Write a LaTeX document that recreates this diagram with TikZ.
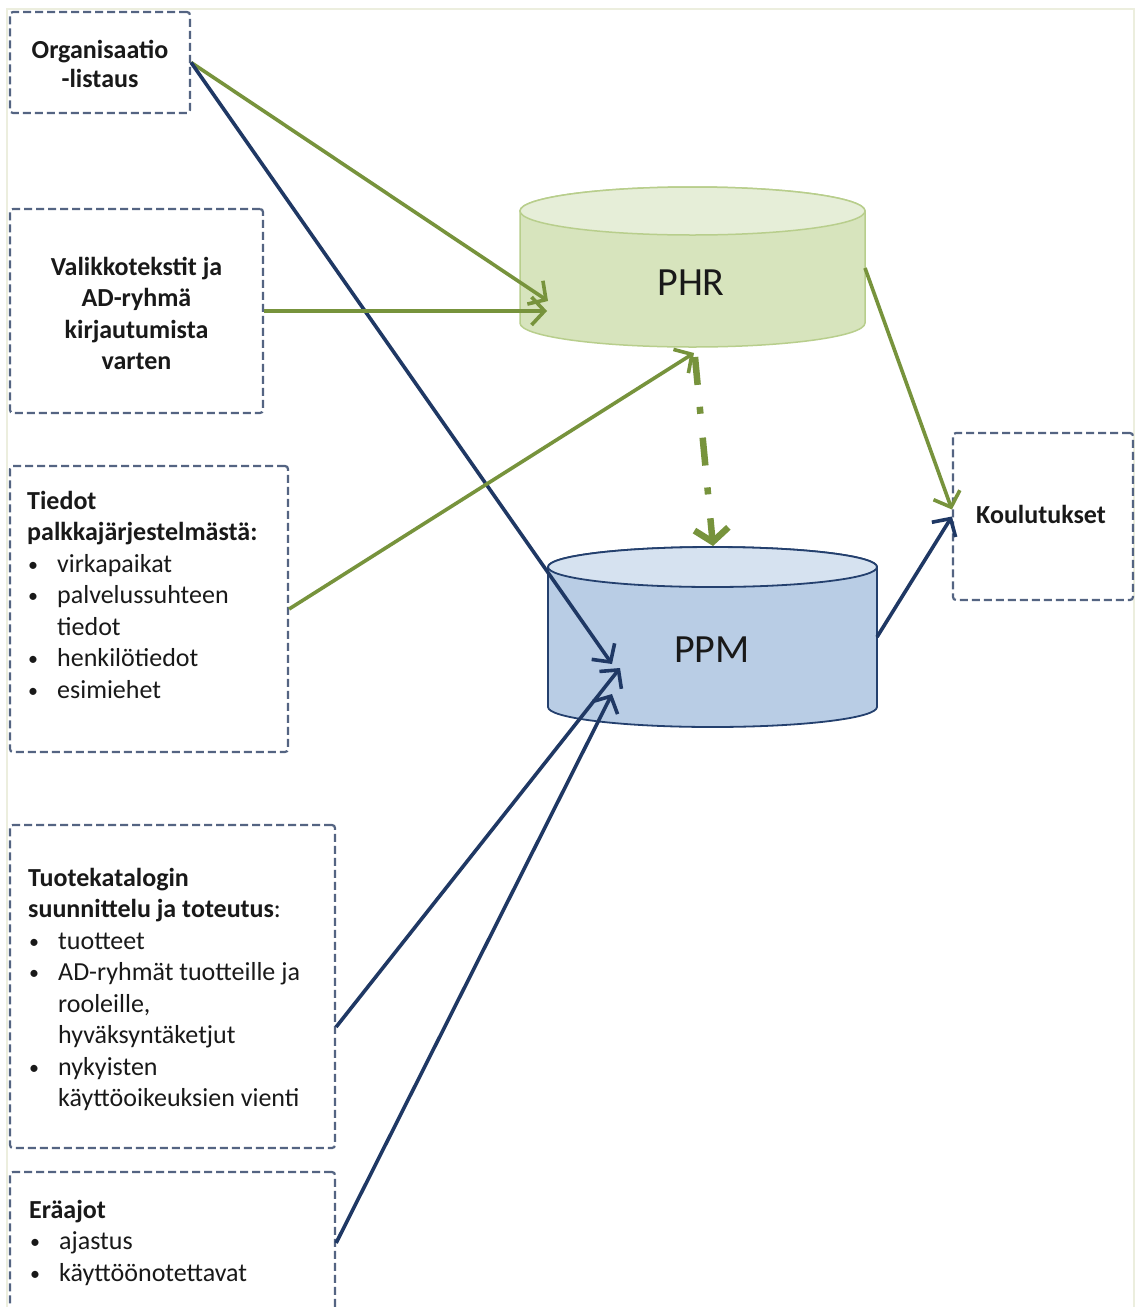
\documentclass[tikz,border=0pt]{standalone}
\usepackage{fontspec}
\setmainfont{Carlito}
\usetikzlibrary{arrows.meta}

\definecolor{arrowgreen}{RGB}{119,147,60}
\definecolor{arrowblue}{RGB}{31,56,100}
\definecolor{boxline}{RGB}{84,100,130}
\definecolor{phrbody}{RGB}{215,228,189}
\definecolor{phrtop}{RGB}{230,238,216}
\definecolor{phredge}{RGB}{184,206,140}
\definecolor{ppmbody}{RGB}{185,205,229}
\definecolor{ppmtop}{RGB}{214,226,240}
\definecolor{ppmedge}{RGB}{36,64,110}
\definecolor{framecream}{RGB}{236,238,222}
\definecolor{inktext}{RGB}{25,25,25}

\tikzset{
  dbox/.style={draw=boxline, line width=2.2pt, dash pattern=on 8pt off 4pt,
    rounded corners=3pt, inner sep=0pt},
  boxtext/.style={inner sep=0pt, text=inktext, font=\fontsize{26}{31.5}\selectfont},
  greenarrow/.style={draw=arrowgreen, line width=3.6pt,
    -{Straight Barb[length=13pt,width=28pt]}},
  bluearrow/.style={draw=arrowblue, line width=3.6pt,
    -{Straight Barb[length=13pt,width=28pt]}},
  syncarrow/.style={draw=arrowgreen, line width=6.5pt,
    dash pattern=on 28pt off 22pt on 7pt off 24pt,
    -{Straight Barb[length=13pt,width=34pt]}},
}
\newcommand\bitem[1]{\makebox[30pt][l]{\hspace{1pt}\raisebox{1pt}{\fontsize{20}{20}\selectfont•}}#1}
\newcommand\bcont[1]{\hspace*{30pt}#1}

\begin{document}
\begin{tikzpicture}[x=1pt,y=-1pt]
\useasboundingbox (0,0) rectangle (1135,1307);
\clip (0,0) rectangle (1135,1307);
\fill[white] (0,0) rectangle (1135,1307);
\draw[framecream, line width=1.5pt] (7,9) rectangle (1134,1330);

% PHR database
\path[fill=phrbody, draw=phredge, line width=1.5pt]
  (520,211) -- (520,323)
  arc[start angle=180, end angle=360, x radius=172.5pt, y radius=24pt]
  -- (865,211)
  arc[start angle=0, end angle=180, x radius=172.5pt, y radius=24pt] -- cycle;
\path[fill=phrtop, draw=phredge, line width=1.5pt]
  (692.5,211) ellipse[x radius=172.5pt, y radius=24pt];
\node[inner sep=0pt, anchor=base, text=inktext, font=\fontsize{40}{48}\selectfont] (phr) at (691,295) {PHR};

% PPM database
\path[fill=ppmbody, draw=ppmedge, line width=1.8pt]
  (548,567) -- (548,707)
  arc[start angle=180, end angle=360, x radius=164.5pt, y radius=20pt]
  -- (877,567)
  arc[start angle=0, end angle=180, x radius=164.5pt, y radius=20pt] -- cycle;
\path[fill=ppmtop, draw=ppmedge, line width=1.8pt]
  (712.5,567) ellipse[x radius=164.5pt, y radius=20pt];
\node[inner sep=0pt, anchor=base, text=inktext, font=\fontsize{40}{48}\selectfont] (ppm) at (712,662) {PPM};

% source and target boxes
\node[dbox, minimum width=180pt, minimum height=101pt] (org) at (100,62.5) {};
\node[dbox, minimum width=253pt, minimum height=204pt] (valik) at (136.5,311) {};
\node[dbox, minimum width=278pt, minimum height=286pt] (tiedot) at (149,609) {};
\node[dbox, minimum width=325pt, minimum height=323pt] (tuote) at (172.5,986.5) {};
\node[dbox, minimum width=325pt, minimum height=142pt] (eraajot) at (172.5,1243) {};
\node[dbox, minimum width=180pt, minimum height=167pt] (koulu) at (1043,516.5) {};

% box texts
\node[boxtext, anchor=north, align=center, font=\fontsize{26}{29}\selectfont\bfseries]
  (orgtext) at (100,37.7) {\strut Organisaatio\\-listaus};
\node[boxtext, anchor=north, align=center, font=\fontsize{26}{31.5}\selectfont\bfseries]
  (valiktext) at (136.5,253) {\strut Valikkotekstit ja\\AD-ryhmä\\kirjautumista\\varten};
\node[boxtext, anchor=north west, align=left] (tiedottext) at (27,487) {%
  \strut\textbf{Tiedot}\\
  \textbf{palkkajärjestelmästä:}\\
  \bitem{virkapaikat}\\
  \bitem{palvelussuhteen}\\
  \bcont{tiedot}\\
  \bitem{henkilötiedot}\\
  \bitem{esimiehet}};
\node[boxtext, anchor=north west, align=left] (tuotetext) at (28,864) {%
  \strut\textbf{Tuotekatalogin}\\
  \textbf{suunnittelu ja toteutus}:\\
  \bitem{tuotteet}\\
  \bitem{AD-ryhmät tuotteille ja}\\
  \bcont{rooleille,}\\
  \bcont{hyväksyntäketjut}\\
  \bitem{nykyisten}\\
  \bcont{käyttöoikeuksien vienti}};
\node[boxtext, anchor=north west, align=left] (eraajottext) at (29,1196) {%
  \strut\textbf{Eräajot}\\
  \bitem{ajastus}\\
  \bitem{käyttöönotettavat}};
\node[boxtext, anchor=base, font=\fontsize{26}{31.5}\selectfont\bfseries]
  (koulutext) at (1041,523) {Koulutukset};

% connector end points on the databases
\coordinate (phrinA) at (548,301);
\coordinate (phrinB) at (547,311);
\coordinate (phrinC) at (694,353);
\coordinate (phrout) at (865,268);
\coordinate (phrbase) at (695,357);
\coordinate (ppmtopc) at (713,546);
\coordinate (ppminA) at (612,664);
\coordinate (ppminB) at (620,668);
\coordinate (ppminC) at (612,694);
\coordinate (ppmout) at (877,637);

% connectors
\draw[greenarrow] (org.east) -- (phrinA);
\draw[bluearrow] (org.east) -- (ppminA);
\draw[greenarrow] (valik.east) -- (phrinB);
\draw[greenarrow] (tiedot.east) -- (phrinC);
\draw[syncarrow] (phrbase) -- (ppmtopc);
\draw[greenarrow] (phrout) -- ([yshift=7pt]koulu.west);
\draw[bluearrow] (ppmout) -- (koulu.west);
\draw[bluearrow] ([yshift=-40.5pt]tuote.east) -- (ppminB);
\draw[bluearrow] (eraajot.east) -- (ppminC);
\end{tikzpicture}
\end{document}
